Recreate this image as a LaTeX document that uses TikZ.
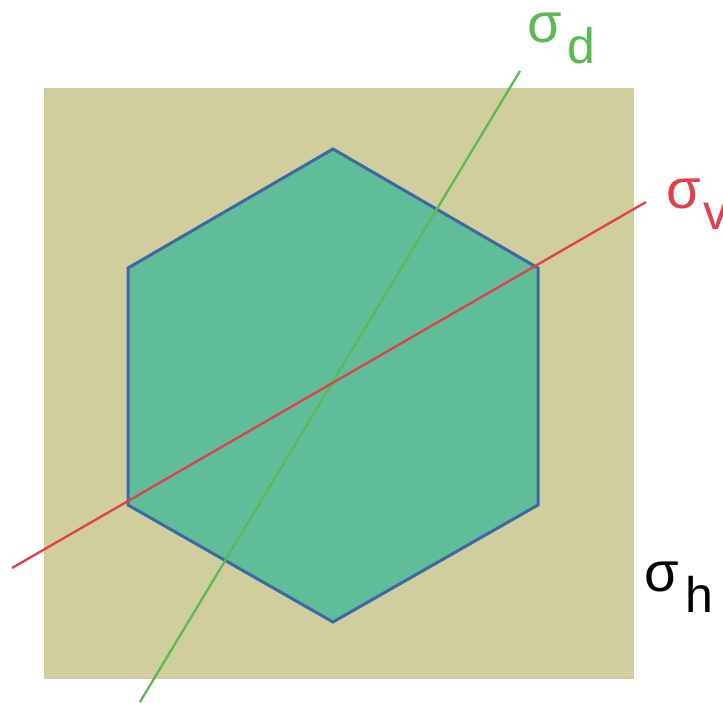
\documentclass[tikz,border=0pt]{standalone}
\usepackage{fontspec}
\setmainfont{Liberation Sans}
\definecolor{plane}{RGB}{208,206,156}
\definecolor{hexfill}{RGB}{95,189,154}
\definecolor{hexedge}{RGB}{62,105,160}
\definecolor{dgreen}{RGB}{92,186,82}
\definecolor{vred}{RGB}{226,62,76}
\tikzset{
  sig/.style={inner sep=0pt, anchor=base west, font=\fontsize{56}{56}\selectfont},
  sub/.style={inner sep=0pt, anchor=base west, font=\fontsize{50}{50}\selectfont},
  mirror/.style={line width=2.3pt}
}
\begin{document}
\begin{tikzpicture}[x=1pt,y=-1pt]
\useasboundingbox (0,0) rectangle (723,702);
% horizontal plane
\fill[plane] (44,88) rectangle (634,679);
% hexagon
\coordinate (h1) at (333,149);
\coordinate (h2) at (538,268);
\coordinate (h3) at (538,505);
\coordinate (h4) at (333,622);
\coordinate (h5) at (128,505);
\coordinate (h6) at (128,268);
\filldraw[fill=hexfill, draw=hexedge, line width=3pt, line join=miter]
  (h1) -- (h2) -- (h3) -- (h4) -- (h5) -- (h6) -- cycle;
% mirror planes
\coordinate (d1) at (520,71);
\coordinate (d2) at (140,702);
\coordinate (v1) at (12,568);
\coordinate (v2) at (646,202);
\draw[mirror, dgreen] (d2) -- (d1);
\draw[mirror, vred] (v1) -- (v2);
% labels
\node[sig, text=dgreen] (sd) at (527,42) {σ};
\node[sub, text=dgreen] (sdsub) at (567,63) {d};
\node[sig, text=vred] (sv) at (666,208) {σ};
\node[sub, text=vred] (svsub) at (703,229) {v};
\node[sig, text=black] (sh) at (644,591) {σ};
\node[sub, text=black] (shsub) at (685,612) {h};
\end{tikzpicture}
\end{document}
